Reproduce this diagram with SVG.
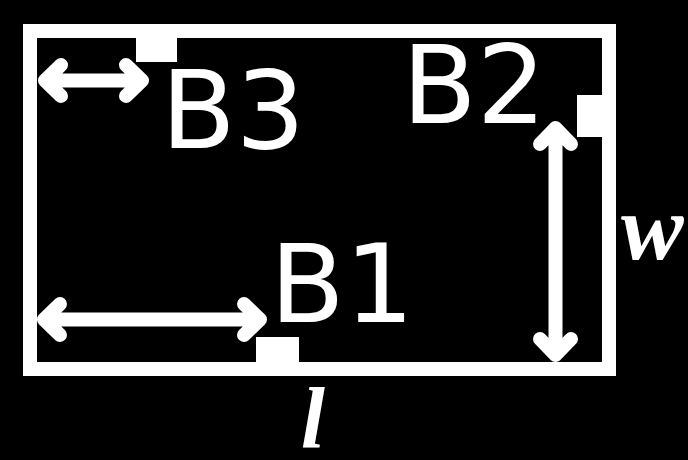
<svg xmlns="http://www.w3.org/2000/svg" width="688" height="460" viewBox="0 0 688 460">
<style>
.lbl{font-family:"DejaVu Sans",sans-serif;font-size:109px;fill:#fff}
.var{font-family:"Liberation Serif",serif;font-style:italic;font-weight:bold;fill:#fff}
.arr{fill:none;stroke:#fff;stroke-width:14;stroke-linecap:round;stroke-linejoin:round}
.pad{fill:#fff}
</style>
<rect x="0" y="0" width="688" height="460" fill="#000"/>
<g id="frame"><rect x="30" y="31" width="579" height="338" fill="none" stroke="#fff" stroke-width="14"/></g>
<g id="B3"><rect class="pad" x="136" y="36" width="41" height="26"/><text class="lbl" x="161" y="148">B3</text></g>
<g id="B2"><rect class="pad" x="577" y="95" width="26" height="42"/><text class="lbl" x="402" y="123">B2</text></g>
<g id="B1"><rect class="pad" x="256" y="337" width="43" height="26"/><text class="lbl" x="270" y="322">B1</text></g>
<g id="w"><text class="var" x="621" y="259" font-size="94">w</text></g>
<g id="l"><text class="var" x="301" y="447" font-size="86">l</text></g>
<g id="connectors">
<path class="arr" d="M45 80.5H142M61 65L45 80.5L61 96M126 65L142 80.5L126 96"/>
<path class="arr" d="M44 319.5H260M60 304L44 319.5L60 335M244 304L260 319.5L244 335"/>
<path class="arr" d="M555.5 128V355M540 144L555.5 128L571 144M540 339L555.5 355L571 339"/>
</g>
</svg>
